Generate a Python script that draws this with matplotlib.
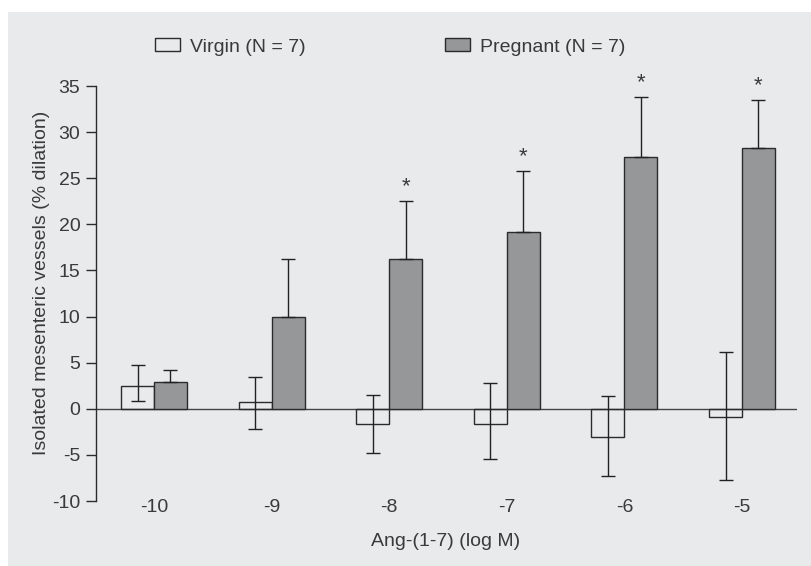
import numpy as np
import matplotlib
matplotlib.use("Agg")
import matplotlib.pyplot as plt
from matplotlib.patches import Rectangle

plt.rcParams['font.family'] = ['Liberation Sans', 'DejaVu Sans']
plt.rcParams['axes.unicode_minus'] = False

# ── data ──────────────────────────────────────────────────────────────────────
doses = ['-10', '-9', '-8', '-7', '-6', '-5']
virgin = [2.5, 0.7, -1.7, -1.6, -3.1, -0.9]
virgin_err_lo = [1.7, 2.9, 3.1, 3.8, 4.2, 6.8]
virgin_err_hi = [2.3, 2.8, 3.2, 4.4, 4.5, 7.1]
pregnant = [2.9, 10.0, 16.2, 19.2, 27.3, 28.3]
pregnant_err = [1.3, 6.2, 6.3, 6.6, 6.5, 5.2]
signif = [False, False, True, True, True, True]

TXT = '#3a3a3a'
EDGE = '#2b2b2b'
BG = '#e9eaec'
FS = 14

fig = plt.figure(figsize=(8.12, 5.66), dpi=100, facecolor='white')
# gray panel behind everything
fig.patches.append(Rectangle((8 / 812, 0), 1, 1 - 12 / 566, transform=fig.transFigure,
                             facecolor=BG, edgecolor='none', zorder=-10))

ax = fig.add_axes([95.7 / 812, 65 / 566, (797 - 95.7) / 812, (501 - 58.4) / 566])
ax.set_facecolor('none')

x = np.arange(len(doses))
w = 0.28

b1 = ax.bar(x - w / 2, virgin, w, facecolor='none', edgecolor=EDGE, linewidth=1.0,
            label='Virgin (N = 7)', zorder=3)
b2 = ax.bar(x + w / 2, pregnant, w, facecolor='#969799', edgecolor=EDGE, linewidth=1.0,
            label='Pregnant (N = 7)', zorder=3)

ax.errorbar(x - w / 2, virgin, yerr=[virgin_err_lo, virgin_err_hi], fmt='none',
            ecolor='#222222', elinewidth=1.0, capsize=4.7, capthick=1.0, zorder=4)
ax.errorbar(x + w / 2, pregnant, yerr=[np.zeros(len(x)), pregnant_err], fmt='none',
            ecolor='#222222', elinewidth=1.0, capsize=4.7, capthick=1.0, zorder=4)

for i, s in enumerate(signif):
    if s:
        ax.annotate('*', (x[i] + w / 2, pregnant[i] + pregnant_err[i]),
                    xytext=(0, 3), textcoords='offset points',
                    ha='center', va='bottom', fontsize=16, color=TXT)

ax.axhline(0, color='#444444', linewidth=1.0, zorder=2)

ax.set_xlim(-0.496, 5.468)
ax.set_ylim(-10, 38)

for side in ['top', 'right', 'bottom']:
    ax.spines[side].set_visible(False)
ax.spines['left'].set_bounds(-10, 35)
ax.spines['left'].set_color(EDGE)
ax.spines['left'].set_linewidth(1.0)

ax.set_yticks(range(-10, 36, 5))
ax.tick_params(axis='y', direction='out', length=7, width=1.0, color=EDGE,
               labelsize=FS, labelcolor=TXT, pad=4)
ax.set_xticks(x)
ax.set_xticklabels(doses)
ax.tick_params(axis='x', length=0, labelsize=FS, labelcolor=TXT, pad=-1.5)

fig.text(42 / 812, 1 - 283 / 566, 'Isolated mesenteric vessels (% dilation)',
         rotation=90, ha='center', va='center', fontsize=FS, color=TXT)
fig.text(446 / 812, 1 - 541.7 / 566, 'Ang-(1-7) (log M)',
         ha='center', va='center', fontsize=FS, color=TXT)

fig.legend(handles=[b1, b2], loc='center left', bbox_to_anchor=(155 / 812, 1 - 47 / 566),
           ncol=2, frameon=False, fontsize=FS, labelcolor=TXT, borderpad=0,
           borderaxespad=0, handlelength=1.28, handleheight=0.65, handletextpad=0.5,
           columnspacing=7.2)

fig.savefig('out.png', dpi=100, facecolor='white')
